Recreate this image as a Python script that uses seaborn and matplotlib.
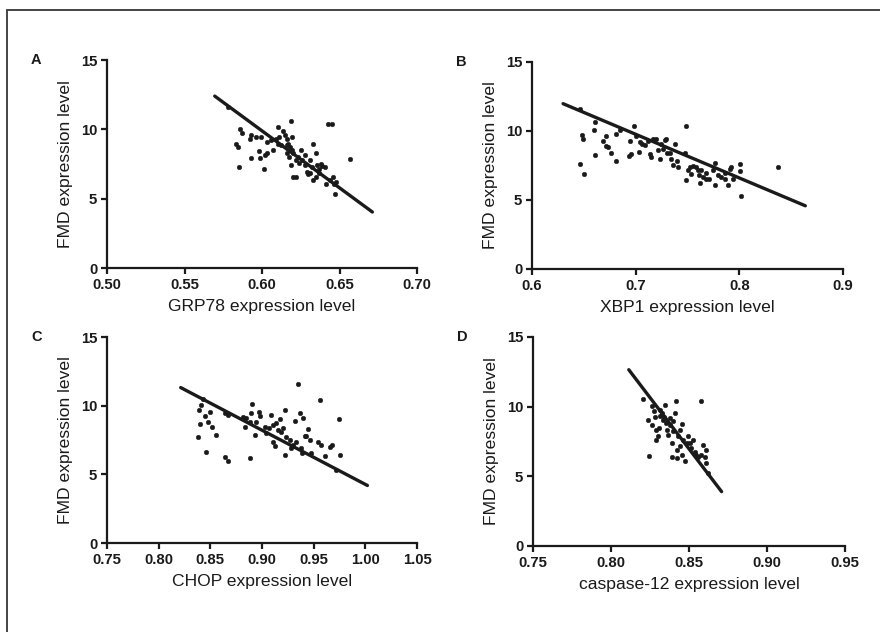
import numpy as np
import pandas as pd
import matplotlib
matplotlib.use("Agg")
import matplotlib.pyplot as plt
import seaborn as sns
from matplotlib.lines import Line2D

# ---------------- data ----------------
a_x = [0.578, 0.5856, 0.587, 0.583, 0.5845, 0.585, 0.592, 0.593, 0.596, 0.5996, 0.598, 0.599,
       0.593, 0.601, 0.602, 0.603, 0.603, 0.606, 0.607, 0.609, 0.610, 0.611, 0.610, 0.6135,
       0.6146, 0.616, 0.617, 0.618, 0.619, 0.6196, 0.616, 0.6176, 0.619, 0.6196, 0.620, 0.6217,
       0.620, 0.622, 0.623, 0.624, 0.625, 0.626, 0.6275, 0.628, 0.629, 0.6297, 0.631, 0.632,
       0.633, 0.633, 0.6346, 0.635, 0.6357, 0.6368, 0.638, 0.639, 0.6405, 0.6415, 0.6426, 0.6454,
       0.6437, 0.6458, 0.6462, 0.647, 0.648, 0.6566, 0.616, 0.612, 0.631, 0.637]
a_y = [11.63, 10.06, 9.75, 8.98, 8.74, 7.30, 9.27, 9.63, 9.46, 9.46, 8.45, 7.95,
       7.90, 7.17, 8.14, 8.26, 9.10, 9.22, 8.50, 9.27, 10.14, 9.46, 8.98, 9.87,
       9.58, 9.34, 8.98, 8.74, 10.62, 9.46, 8.86, 8.02, 7.42, 8.50, 8.26, 7.78,
       6.57, 6.57, 8.02, 7.54, 8.50, 7.78, 7.42, 8.14, 6.93, 6.77, 7.78, 7.30,
       8.93, 6.33, 6.57, 8.26, 7.42, 7.17, 7.49, 7.34, 7.30, 6.09, 10.42, 10.42,
       6.33, 6.57, 6.04, 5.37, 6.21, 7.85, 8.26, 8.86, 6.86, 6.86]
a_fit_x = [0.5695, 0.6712]
a_fit_y = [12.40, 4.04]

b_x = [0.646, 0.6486, 0.649, 0.6466, 0.6498, 0.6604, 0.6598, 0.661, 0.6685, 0.671, 0.6717, 0.6733,
       0.6765, 0.6807, 0.6813, 0.6845, 0.6936, 0.6958, 0.6949, 0.6984, 0.7007, 0.7032, 0.7039, 0.7064,
       0.7087, 0.7119, 0.7135, 0.715, 0.7167, 0.72, 0.7215, 0.7232, 0.7248, 0.7264, 0.728, 0.7296,
       0.7305, 0.7328, 0.734, 0.736, 0.7376, 0.7399, 0.741, 0.7482, 0.7473, 0.7489, 0.7505, 0.752,
       0.7537, 0.7553, 0.758, 0.760, 0.761, 0.7624, 0.7634, 0.765, 0.768, 0.7708, 0.7746, 0.7762,
       0.7762, 0.7794, 0.7826, 0.7859, 0.7859, 0.789, 0.7907, 0.792, 0.794, 0.8003, 0.8003, 0.802,
       0.8373, 0.768]
b_y = [11.58, 9.69, 9.45, 7.60, 6.87, 10.66, 10.06, 8.25, 9.26, 9.62, 8.90, 8.85,
       8.44, 7.84, 9.81, 10.10, 8.18, 8.30, 9.26, 10.35, 9.62, 8.49, 9.20, 9.09,
       8.97, 9.26, 8.30, 8.13, 9.45, 9.45, 8.61, 8.00, 9.09, 8.73, 9.33, 9.45,
       8.37, 8.37, 8.00, 7.52, 9.09, 7.84, 7.40, 10.35, 8.37, 6.44, 7.16, 7.40,
       6.87, 7.45, 7.40, 7.16, 6.80, 6.24, 7.16, 6.63, 6.49, 6.49, 7.16, 7.69,
       6.08, 6.80, 6.68, 6.92, 6.49, 6.08, 7.28, 7.40, 6.49, 7.64, 7.09, 5.31,
       7.36, 6.97]
b_fit_x = [0.630, 0.8637]
b_fit_y = [11.98, 4.58]

c_x = [0.838, 0.839, 0.8397, 0.8413, 0.8429, 0.8448, 0.8461, 0.8477, 0.8494, 0.8519, 0.8558, 0.8645,
       0.8671, 0.8639, 0.8671, 0.8816, 0.8832, 0.8848, 0.888, 0.889, 0.8906, 0.8929, 0.8945, 0.8971,
       0.8984, 0.9026, 0.9042, 0.9068, 0.909, 0.9106, 0.9123, 0.9139, 0.9155, 0.9171, 0.9187, 0.9203,
       0.922, 0.922, 0.9235, 0.9268, 0.9284, 0.930, 0.9316, 0.9332, 0.9348, 0.9364, 0.938, 0.939,
       0.9397, 0.9413, 0.9429, 0.9445, 0.9461, 0.9477, 0.9542, 0.9574, 0.9558, 0.9606, 0.9655, 0.9677,
       0.972, 0.9745, 0.9752, 0.888, 0.9106]
c_y = [7.69, 9.68, 8.66, 10.04, 10.52, 9.24, 6.63, 8.83, 9.56, 8.42, 7.86, 6.29,
       5.98, 9.44, 9.31, 9.19, 8.47, 9.07, 6.17, 9.44, 10.16, 7.86, 8.83, 9.56,
       9.24, 8.47, 7.98, 8.35, 9.31, 7.38, 7.06, 8.76, 8.23, 9.00, 8.10, 8.35,
       9.68, 6.41, 7.74, 7.50, 6.90, 7.14, 8.88, 7.38, 11.56, 9.44, 6.90, 6.53,
       9.07, 7.79, 7.79, 8.27, 7.50, 6.53, 7.38, 7.14, 10.40, 6.34, 7.02, 7.14,
       5.32, 9.00, 6.41, 8.83, 8.59]
c_fit_x = [0.8213, 1.002]
c_fit_y = [11.32, 4.19]

d_x = [0.8202, 0.8244, 0.8238, 0.826, 0.8266, 0.8277, 0.8281, 0.8287, 0.8291, 0.8302, 0.8309, 0.8313,
       0.8317, 0.8324, 0.8334, 0.8339, 0.8345, 0.8351, 0.836, 0.8366, 0.8377, 0.8381, 0.8388, 0.8392,
       0.8398, 0.8409, 0.8416, 0.842, 0.8424, 0.8431, 0.8441, 0.8452, 0.8458, 0.8463, 0.8473, 0.8484,
       0.8495, 0.8505, 0.8516, 0.8527, 0.8537, 0.8548, 0.8559, 0.8574, 0.858, 0.8591, 0.8602, 0.8608,
       0.8612, 0.8623, 0.8398, 0.8441]
d_y = [10.57, 6.47, 9.06, 8.70, 10.02, 9.66, 9.25, 8.34, 7.62, 7.91, 8.46, 9.78,
       9.34, 9.54, 9.06, 9.25, 10.14, 8.82, 8.34, 7.98, 8.70, 9.18, 7.38, 6.42,
       8.22, 9.54, 10.38, 6.90, 6.30, 7.86, 7.14, 6.54, 8.77, 7.62, 6.11, 7.38,
       7.86, 7.38, 7.02, 7.62, 6.71, 6.54, 6.42, 10.38, 6.54, 7.26, 6.42, 5.94,
       6.90, 5.22, 8.94, 8.34]
d_fit_x = [0.8114, 0.8709]
d_fit_y = [12.65, 3.90]

panel_letters = ["A", "B", "C", "D"]
x_labels = ["GRP78 expression level", "XBP1 expression level",
            "CHOP expression level", "caspase-12 expression level"]
y_label = "FMD expression level"
x_ticks = [[0.50, 0.55, 0.60, 0.65, 0.70],
           [0.6, 0.7, 0.8, 0.9],
           [0.75, 0.80, 0.85, 0.90, 0.95, 1.00, 1.05],
           [0.75, 0.80, 0.85, 0.90, 0.95]]
x_tick_fmt = ["{:.2f}", "{:.1f}", "{:.2f}", "{:.2f}"]
y_ticks = [0, 5, 10, 15]

# ---------------- style ----------------
sns.set_style("ticks")
plt.rcParams['font.family'] = ['Liberation Sans', 'DejaVu Sans']

fig = plt.figure(figsize=(8.8, 6.32), dpi=100)

rects = [
    [0.1216, 0.5759, 0.3523, 0.3291],
    [0.6045, 0.5744, 0.3534, 0.3275],
    [0.1216, 0.1408, 0.3523, 0.3259],
    [0.6057, 0.1361, 0.3545, 0.3307],
]

datasets = [
    (a_x, a_y, a_fit_x, a_fit_y),
    (b_x, b_y, b_fit_x, b_fit_y),
    (c_x, c_y, c_fit_x, c_fit_y),
    (d_x, d_y, d_fit_x, d_fit_y),
]

ink = "#1a1a1a"
for i, (rect, (xs, ys, fx, fy)) in enumerate(zip(rects, datasets)):
    ax = fig.add_axes(rect)
    df = pd.DataFrame({"x": xs, "y": ys})
    fit = pd.DataFrame({"x": fx, "y": fy})
    sns.scatterplot(data=df, x="x", y="y", ax=ax, s=11, color=ink,
                    edgecolor=ink, linewidth=0.3, zorder=3)
    sns.lineplot(data=fit, x="x", y="y", ax=ax, color=ink, linewidth=2.4,
                 zorder=4, estimator=None, sort=False)
    xt = x_ticks[i]
    ax.set_xlim(xt[0], xt[-1])
    ax.set_ylim(0, 15)
    ax.set_xticks(xt)
    ax.set_xticklabels([x_tick_fmt[i].format(v) for v in xt])
    ax.set_yticks(y_ticks)
    ax.set_yticklabels([str(v) for v in y_ticks])
    for sp in ["top", "right"]:
        ax.spines[sp].set_visible(False)
    for sp in ["left", "bottom"]:
        ax.spines[sp].set_linewidth(1.6)
        ax.spines[sp].set_color(ink)
    ax.tick_params(axis="both", direction="out", length=4, width=1.6,
                   colors=ink, labelsize=10.7, pad=3)
    for lab in ax.get_xticklabels() + ax.get_yticklabels():
        lab.set_fontweight("bold")
    ax.set_xlabel(x_labels[i], fontsize=12.6, color=ink, labelpad=5)
    ax.set_ylabel(y_label, fontsize=12.6, color=ink, labelpad=6)
    ax.text(-0.228, 1.0, panel_letters[i], transform=ax.transAxes,
            fontsize=10.5, fontweight="bold", color=ink, ha="center", va="center")

# outer frame (top and left lines)
fig.add_artist(Line2D([7 / 880, 1.0], [1 - 10 / 632, 1 - 10 / 632],
                      transform=fig.transFigure, color="#444444", linewidth=1.4))
fig.add_artist(Line2D([7 / 880, 7 / 880], [0.0, 1 - 10 / 632],
                      transform=fig.transFigure, color="#444444", linewidth=1.4))

fig.savefig("out.png", dpi=100)
